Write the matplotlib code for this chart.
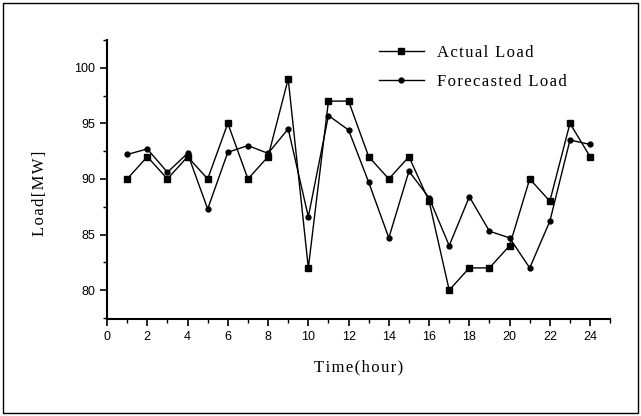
import matplotlib
matplotlib.use('Agg')
import matplotlib.pyplot as plt
from matplotlib.patches import Rectangle
from matplotlib.ticker import MultipleLocator

# dados
horas = list(range(1, 25))
carga_real = [90, 92, 90, 92, 90, 95, 90, 92, 99, 82, 97, 97,
              92, 90, 92, 88, 80, 82, 82, 84, 90, 88, 95, 92]
carga_prevista = [92.2, 92.7, 90.6, 92.3, 87.3, 92.4, 93.0, 92.3, 94.5, 86.6, 95.7, 94.4,
                  89.7, 84.7, 90.7, 88.3, 84.0, 88.4, 85.3, 84.7, 82.0, 86.2, 93.5, 93.1]

serif = ['Liberation Serif', 'DejaVu Serif']


def espacar(texto):
    # espaco bem fino entre as letras, como no original
    return '\u200a'.join(texto)


fig = plt.figure(figsize=(6.41, 4.16), dpi=100)
ax = fig.add_axes([0.167, 0.233, 0.785, 0.671])

# moldura em volta da figura
fig.patches.append(Rectangle((0.005, 0.008), 0.99, 0.985, transform=fig.transFigure,
                             fill=False, edgecolor='black', linewidth=1.0))

ax.plot(horas, carga_real, color='black', linewidth=1.0, marker='s', markersize=4,
        label=espacar('Actual Load'))
ax.plot(horas, carga_prevista, color='black', linewidth=1.0, marker='o', markersize=3.5,
        label=espacar('Forecasted Load'))

ax.set_xlim(0, 25)
ax.set_ylim(77.4, 102.5)
ax.xaxis.set_major_locator(MultipleLocator(2))
ax.xaxis.set_minor_locator(MultipleLocator(1))
ax.yaxis.set_major_locator(MultipleLocator(5))
ax.yaxis.set_minor_locator(MultipleLocator(2.5))

ax.spines['top'].set_visible(False)
ax.spines['right'].set_visible(False)
ax.spines['left'].set_linewidth(1.5)
ax.spines['bottom'].set_linewidth(1.5)
ax.tick_params(which='major', direction='out', length=5, width=1.2, labelsize=9)
ax.tick_params(which='minor', direction='out', length=3, width=1.0)
for lbl in ax.get_xticklabels() + ax.get_yticklabels():
    lbl.set_fontfamily('Liberation Sans')

ax.set_xlabel(espacar('Time(hour)'), fontfamily=serif, fontsize=12, labelpad=12)
ax.set_ylabel(espacar('Load[MW]'), fontfamily=serif, fontsize=12)
ax.yaxis.set_label_coords(-0.118, 0.45)

leg = ax.legend(loc='upper left', bbox_to_anchor=(0.51, 1.035), frameon=False,
                prop={'family': serif, 'size': 12}, handlelength=2.7,
                labelspacing=0.75)

fig.savefig('out.png', dpi=100)
